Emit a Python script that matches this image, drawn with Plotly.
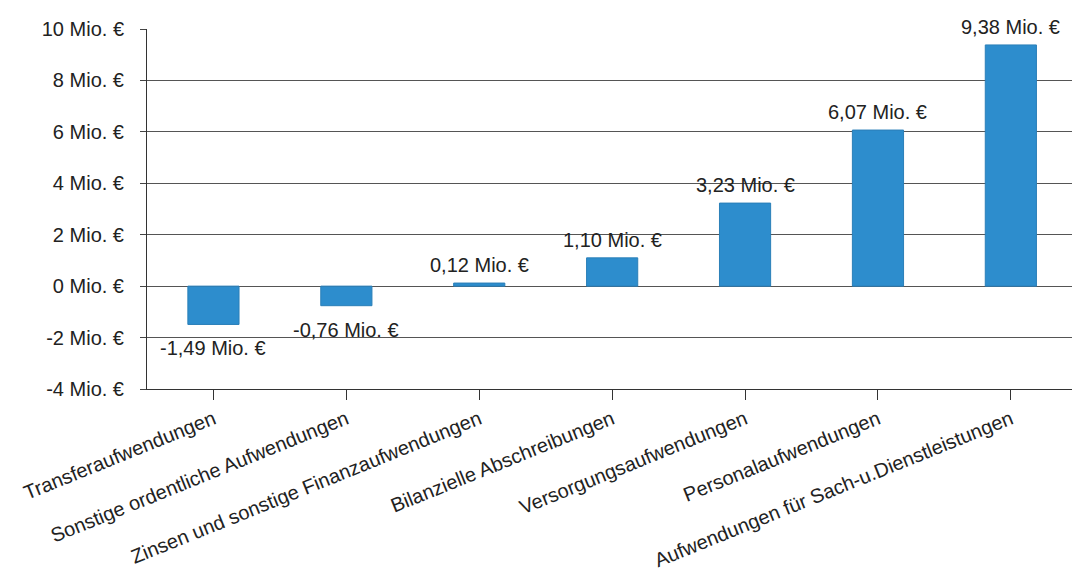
import plotly.graph_objects as go

# Aufwandsarten und Beträge in Mio. €
categories = [
    "Transferaufwendungen",
    "Sonstige ordentliche Aufwendungen",
    "Zinsen und sonstige Finanzaufwendungen",
    "Bilanzielle Abschreibungen",
    "Versorgungsaufwendungen",
    "Personalaufwendungen",
    "Aufwendungen für Sach-u.Dienstleistungen",
]
values = [-1.49, -0.76, 0.12, 1.10, 3.23, 6.07, 9.38]
y_ticks = [-4, -2, 0, 2, 4, 6, 8, 10]


def mio(v):
    return f"{v:.2f}".replace(".", ",") + " Mio. €"


FONT = "Liberation Sans, Arial, sans-serif"
x_pos = list(range(len(categories)))

fig = go.Figure(
    go.Bar(
        x=x_pos,
        y=values,
        marker=dict(color="#2d8dcd", line=dict(color="#2a7fb8", width=1)),
        width=0.385,
        hoverinfo="skip",
    )
)

# value labels above positive bars, below negative bars
for xi, v in zip(x_pos, values):
    fig.add_annotation(
        x=xi,
        y=v,
        text=mio(v),
        showarrow=False,
        yanchor="bottom" if v >= 0 else "top",
        yshift=5 if v >= 0 else -11,
        font=dict(family=FONT, size=20, color="#222222"),
    )

fig.update_layout(
    width=1072,
    height=581,
    margin=dict(l=147, r=0, t=29, b=192),
    paper_bgcolor="white",
    plot_bgcolor="white",
    showlegend=False,
    font=dict(family=FONT, color="#222222"),
)

fig.update_xaxes(
    range=[-0.5, 6.46],
    tickmode="array",
    tickvals=x_pos,
    ticktext=categories,
    tickangle=-22,
    tickfont=dict(family=FONT, size=20, color="#222222"),
    ticks="outside",
    ticklen=10,
    tickcolor="#333333",
    showline=True,
    linecolor="#333333",
    linewidth=1,
    showgrid=False,
    zeroline=False,
)

fig.update_yaxes(
    range=[-4, 10],
    tickmode="array",
    tickvals=y_ticks,
    ticktext=[f"{v} Mio. €" for v in y_ticks],
    tickfont=dict(family=FONT, size=20, color="#222222"),
    ticks="outside",
    ticklen=6,
    tickcolor="#444444",
    ticklabelstandoff=12,
    showline=True,
    linecolor="#333333",
    linewidth=1,
    showgrid=True,
    gridcolor="#555555",
    gridwidth=1,
    zeroline=False,
)

fig.write_html("out.html")
